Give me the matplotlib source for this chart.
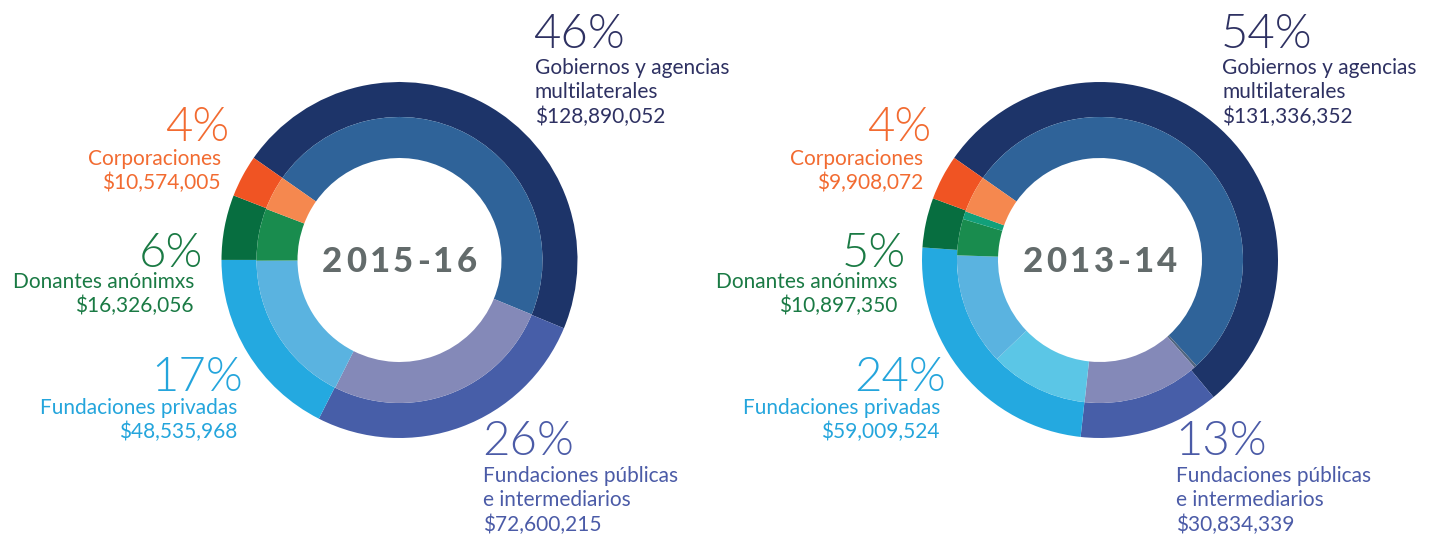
import matplotlib.pyplot as plt
from matplotlib import font_manager

W, H = 1439, 538

# datos
periodos = ['2015-16', '2013-14']
categorias = ['Gobiernos y agencias\nmultilaterales', 'Fundaciones públicas\ne intermediarios',
              'Fundaciones privadas', 'Donantes anónimxs', 'Corporaciones']
montos_2015 = [128890052, 72600215, 48535968, 16326056, 10574005]
montos_2013 = [131336352, 30834339, 59009524, 10897350, 9908072]
pct_2015 = [46, 26, 17, 6, 4]
pct_2013 = [54, 13, 24, 5, 4]
# anillo interior (porcentajes estimados del grafico)
interior_2015 = [46.5, 26.2, 17.5, 5.9, 3.9]
interior_2013 = [53.5, 0.3, 13.2, 11.1, 12.7, 4.1, 0.9, 4.2]

# colores
col_ext = ['#1D3469', '#475EA8', '#24A9E0', '#076E40', '#F05423']
col_int_2015 = ['#2F6399', '#8489B8', '#5AB3E0', '#198C4E', '#F5884F']
col_int_2013 = ['#2F6399', '#52657F', '#8489B8', '#5BC6E6', '#5AB3E0', '#198C4E', '#12A07A', '#F5884F']
col_texto = ['#2E3162', '#4B5BA7', '#24A5DC', '#1A7A44', '#F26B31']

# posiciones de las etiquetas (px, desde arriba): x_pct, base_pct, x_txt, base_txt, ha
etq_2015 = [(533, 48, 535, 74, 'left'), (482, 455, 483, 482, 'left'),
            (243, 391, 237, 414, 'right'), (203, 267, 194, 288, 'right'),
            (229, 141, 221, 165, 'right')]
etq_2013 = [(1221, 48, 1222, 74, 'left'), (1175, 455, 1176, 482, 'left'),
            (946, 391, 940, 414, 'right'), (906, 267, 897, 288, 'right'),
            (931, 141, 923, 165, 'right')]
centros = [(399.5, 260), (1100, 260)]

plt.rcParams['font.family'] = ['Lato', 'DejaVu Sans']

# buscar Lato Light por archivo
light = None
for f in font_manager.findSystemFonts():
    nombre = f.split('/')[-1].lower()
    if nombre.startswith('lato') and 'light' in nombre and 'italic' not in nombre:
        light = f
        break
if light:
    fp_pct = font_manager.FontProperties(fname=light, size=34)
else:
    fp_pct = font_manager.FontProperties(family='Lato', weight='normal', size=34)

fig = plt.figure(figsize=(W / 100, H / 100), dpi=100)
ax = fig.add_axes([0, 0, 1, 1])


def dona(c, montos, interior, col_int):
    cx, cy = c[0], H - c[1]
    ax.pie(montos, radius=178, center=(cx, cy), startangle=145, counterclock=False,
           colors=col_ext, wedgeprops=dict(width=35, linewidth=0))
    ax.pie(interior, radius=143, center=(cx, cy), startangle=145, counterclock=False,
           colors=col_int, wedgeprops=dict(width=41, linewidth=0))


def titulo(c, s, esp=3.5):
    r = fig.canvas.get_renderer()
    kw = dict(fontsize=25, fontweight='black', color='#636B6B')
    anchos = []
    for ch in s:
        t = ax.text(0, 0, ch, **kw)
        anchos.append(t.get_window_extent(r).width)
        t.remove()
    total = sum(anchos) + esp * (len(s) - 1)
    x = c[0] - total / 2
    for ch, w in zip(s, anchos):
        ax.text(x, H - 272, ch, ha='left', va='baseline', **kw)
        x += w + esp


def etiquetas(montos, pcts, pos):
    for i in range(len(categorias)):
        xp, yp, xt, yt, ha = pos[i]
        ax.text(xp, H - yp, f'{pcts[i]}%', fontproperties=fp_pct,
                color=col_texto[i], ha=ha, va='baseline')
        lineas = categorias[i].split('\n') + [f'${montos[i]:,}']
        for j, ln in enumerate(lineas):
            ax.text(xt, H - (yt + 24.5 * j), ln, fontsize=15, color=col_texto[i],
                    ha=ha, va='baseline')


dona(centros[0], montos_2015, interior_2015, col_int_2015)
dona(centros[1], montos_2013, interior_2013, col_int_2013)
ax.set_xlim(0, W)
ax.set_ylim(0, H)
ax.axis('off')

titulo(centros[0], periodos[0])
titulo(centros[1], periodos[1])
etiquetas(montos_2015, pct_2015, etq_2015)
etiquetas(montos_2013, pct_2013, etq_2013)

fig.savefig('out.png', dpi=100)
